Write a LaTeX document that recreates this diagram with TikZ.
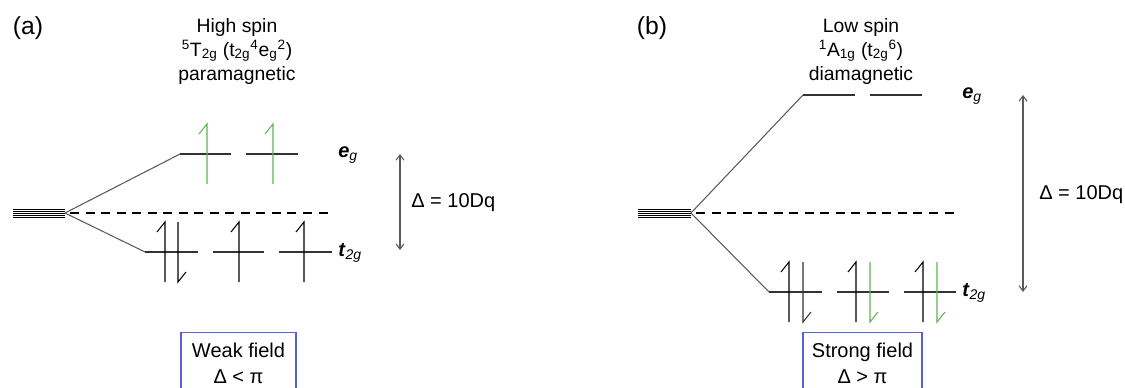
\documentclass[tikz,border=0pt]{standalone}
\usepackage{fontspec}
\setmainfont{Liberation Sans}
\usetikzlibrary{arrows.meta}
\definecolor{spingreen}{RGB}{95,178,85}
\definecolor{boxblue}{RGB}{85,95,215}
\definecolor{linegray}{RGB}{50,50,50}
\definecolor{arrgray}{RGB}{90,90,90}
\begin{document}
\begin{tikzpicture}[x=0.75pt,y=-0.75pt,
  lvl/.style={line width=0.8pt, draw=linegray},
  split/.style={line width=0.8pt, draw=linegray!80},
  bund/.style={line width=0.5pt, draw=black},
  dashline/.style={line width=0.8pt, draw=black, dash pattern=on 6.75pt off 4.9pt},
  gap/.style={line width=0.8pt, draw=arrgray, {Straight Barb[length=4pt,width=6pt]}-{Straight Barb[length=4pt,width=6pt]}},
  lab/.style={font=\fontsize{15}{18}\selectfont, inner sep=0pt},
  title/.style={font=\fontsize{14.5}{18}\selectfont, align=center, inner sep=0pt},
  panel/.style={font=\fontsize{18.5}{22}\selectfont, inner sep=0pt},
  fieldbox/.style={draw=boxblue, line width=0.8pt, align=center, inner sep=0pt,
    font=\fontsize{15}{19.5}\selectfont, minimum height=46.5pt, anchor=north},
  spinup/.pic={\draw[line width=0.8pt] (0,30) -- (0,-30) -- (-8,-20);},
  spindown/.pic={\draw[line width=0.8pt] (0,-30) -- (0,30) -- (8,20);}
]
\useasboundingbox (0,0) rectangle (1125,387);
\clip (0,0) rectangle (1125,387);

% ================= (a) =================
\node[panel] (pa) at (28,28) {(a)};
\node[title] (ta) at (237,51) {High spin\\\textsuperscript{5}T\textsubscript{2g} (t\textsubscript{2g}\textsuperscript{4}e\textsubscript{g}\textsuperscript{2})\\paramagnetic};

\foreach \yy in {209,211,213,215,217} \draw[bund] (13,\yy) -- (65,\yy);
\coordinate (ca) at (65,213);
\draw[dashline] (70,213) -- (333,213);
\draw[split] (ca) -- (180,154);
\draw[split] (ca) -- (145,252);
% eg levels
\draw[lvl] (180,154) -- (231,154);
\draw[lvl] (246,154) -- (298,154);
% t2g levels
\draw[lvl] (145,252) -- (198,252);
\draw[lvl] (213,252) -- (264,252);
\draw[lvl] (279,252) -- (332,252);
% electrons
\pic[draw=spingreen] at (207,154) {spinup};
\pic[draw=spingreen] at (273,154) {spinup};
\pic[draw=black] at (165,252) {spinup};
\pic[draw=black] at (178,252) {spindown};
\pic[draw=black] at (239,252) {spinup};
\pic[draw=black] at (304,252) {spinup};
\node[lab, anchor=west] (ega) at (338,155) {\textbf{\textit{e}}\textsubscript{\textit{g}}};
\node[lab, anchor=west] (tga) at (338,253) {\textbf{\textit{t}}\textsubscript{\textit{2g}}};
\coordinate (da1) at (400,154);
\coordinate (da2) at (400,250);
\draw[gap] (da1) -- (da2);
\node[lab, anchor=west] (dla) at (411,203) {Δ = 10Dq};
\node[fieldbox, minimum width=86.25pt] (wf) at (238.5,332) {Weak field\\Δ < π};

% ================= (b) =================
\node[panel] (pb) at (652,28) {(b)};
\node[title] (tb) at (861,51) {Low spin\\\textsuperscript{1}A\textsubscript{1g} (t\textsubscript{2g}\textsuperscript{6})\\diamagnetic};

\foreach \yy in {209,211,213,215,217} \draw[bund] (638,\yy) -- (691,\yy);
\coordinate (cb) at (691,213);
\draw[dashline] (696,213) -- (956,213);
\draw[split] (cb) -- (803,95);
\draw[split] (cb) -- (769,292);
% eg levels
\draw[lvl] (803,95) -- (855,95);
\draw[lvl] (870,95) -- (922,95);
% t2g levels
\draw[lvl] (769,292) -- (822,292);
\draw[lvl] (837,292) -- (889,292);
\draw[lvl] (904,292) -- (956,292);
% electrons
\pic[draw=black] at (789,292) {spinup};
\pic[draw=black!80] at (803,292) {spindown};
\pic[draw=black] at (856,292) {spinup};
\pic[draw=spingreen] at (870,292) {spindown};
\pic[draw=black] at (923,292) {spinup};
\pic[draw=spingreen] at (937,292) {spindown};
\node[lab, anchor=west] (egb) at (962,96) {\textbf{\textit{e}}\textsubscript{\textit{g}}};
\node[lab, anchor=west] (tgb) at (962,293) {\textbf{\textit{t}}\textsubscript{\textit{2g}}};
\coordinate (db1) at (1023,95);
\coordinate (db2) at (1023,292);
\draw[gap] (db1) -- (db2);
\node[lab, anchor=west] (dlb) at (1039,195) {Δ = 10Dq};
\node[fieldbox, minimum width=89.25pt] (sf) at (862.5,332) {Strong field\\Δ > π};
\end{tikzpicture}
\end{document}
